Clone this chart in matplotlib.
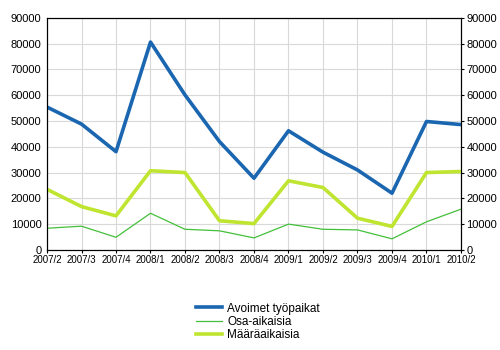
import matplotlib.pyplot as plt

plt.rcParams['font.family'] = ['Liberation Sans', 'DejaVu Sans']

quarters = ['2007/2', '2007/3', '2007/4', '2008/1', '2008/2', '2008/3', '2008/4',
            '2009/1', '2009/2', '2009/3', '2009/4', '2010/1', '2010/2']
avoimet = [55400, 48800, 38100, 80600, 60100, 42000, 27800,
           46200, 37900, 31000, 22000, 49800, 48600]
osa_aikaisia = [8400, 9200, 4900, 14200, 8000, 7400, 4650,
                10000, 8000, 7750, 4300, 10900, 15800]
maaraaikaisia = [23500, 16800, 13200, 30700, 30000, 11300, 10200,
                 26800, 24200, 12300, 9100, 30000, 30400]

fig = plt.figure(figsize=(5, 3.5), dpi=100)
ax = fig.add_axes([0.094, 0.286, 0.828, 0.663])

x = range(len(quarters))
ax.plot(x, avoimet, color='#1a66b0', lw=2.6, label='Avoimet työpaikat', zorder=3)
ax.plot(x, osa_aikaisia, color='#44bf3a', lw=0.9, label='Osa-aikaisia', zorder=3)
ax.plot(x, maaraaikaisia, color='#bfe530', lw=2.6, label='Määräaikaisia', zorder=3)

ax.set_xlim(0, len(quarters) - 1)
ax.set_ylim(0, 90000)
ax.set_yticks(range(0, 90001, 10000))
ax.set_xticks(list(x))
ax.set_xticklabels(quarters, fontsize=7)
ax.tick_params(axis='y', labelsize=8, length=0, pad=4)
ax.tick_params(axis='x', length=2, width=0.8, pad=2)
ax.grid(True, color='#d9d9d9', lw=0.8)
ax.set_axisbelow(True)
for s in ax.spines.values():
    s.set_color('black')
    s.set_linewidth(0.8)

# second y axis on the right with the same scale
ax2 = ax.twinx()
ax2.set_ylim(ax.get_ylim())
ax2.set_yticks(range(0, 90001, 10000))
ax2.tick_params(axis='y', labelsize=8, length=2, width=0.8, pad=2)

handles, labels = ax.get_legend_handles_labels()
fig.legend(handles, labels, loc='center', bbox_to_anchor=(0.516, 0.08),
           frameon=False, fontsize=8.5, handlelength=2.2, handletextpad=0.4,
           labelspacing=0.12)

fig.savefig('out.png', dpi=100)
